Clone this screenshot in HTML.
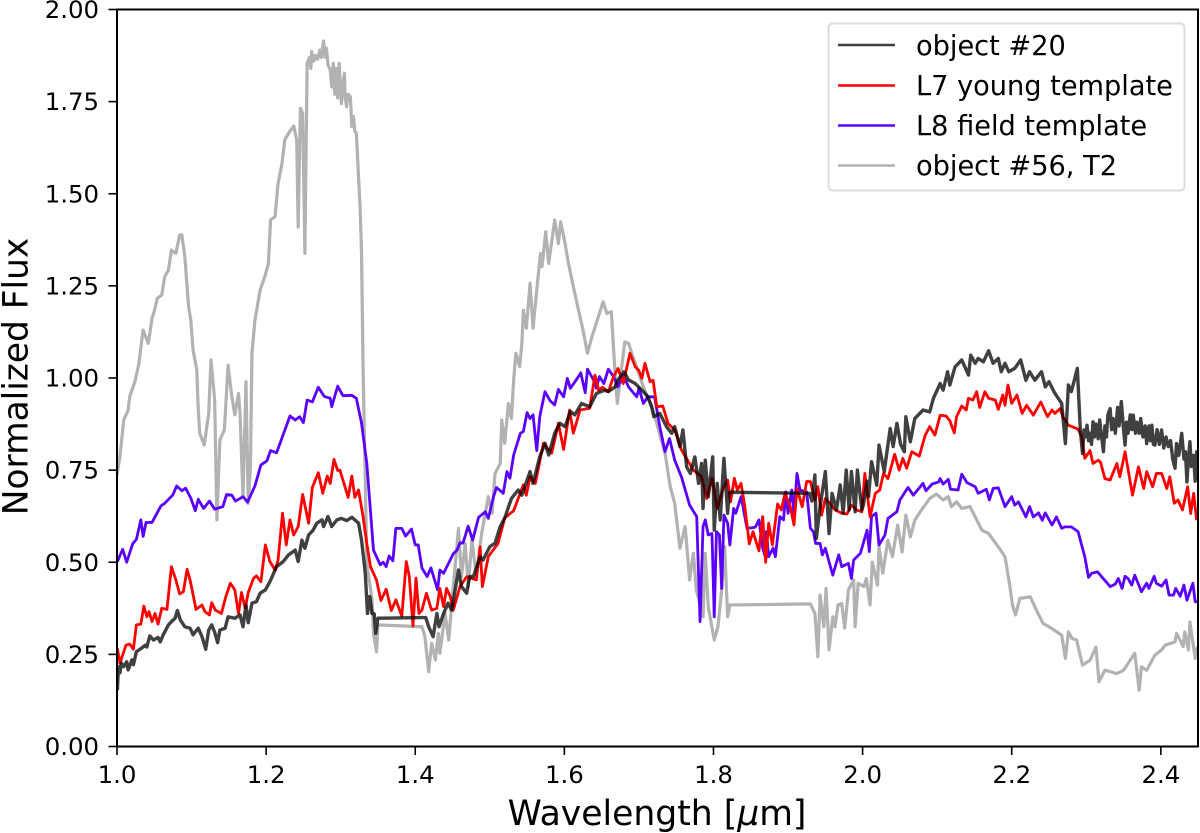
<!DOCTYPE html>
<html lang="en">
<head>
<meta charset="utf-8">
<title>Normalized flux spectra</title>
<style>
html,body{margin:0;padding:0;background:#fff;}
svg{display:block;font-family:"DejaVu Sans","Liberation Sans",sans-serif;}
</style>
</head>
<body>
<svg id="chart" xmlns="http://www.w3.org/2000/svg" width="1200" height="833" viewBox="0 0 1200 833">
  <defs><clipPath id="plot-clip"><rect x="117" y="9.5" width="1081" height="737"/></clipPath></defs>
  <rect x="0" y="0" width="1200" height="833" fill="#fff"/>
  <g id="series-layer" clip-path="url(#plot-clip)"></g>
  <g id="tick-layer"></g>
  <rect x="117" y="9.5" width="1081" height="737" fill="none" stroke="#000" stroke-width="2"/>
  <text transform="translate(27.5,376.5) rotate(-90)" text-anchor="middle" font-size="34.4" fill="#000">Normalized Flux</text>
  <text x="657" y="825" text-anchor="middle" font-size="34.6" fill="#000">Wavelength [<tspan font-style="italic">μ</tspan>m]</text>
  <g>
    <rect x="828.5" y="23.5" width="356" height="167" rx="4" ry="4" fill="#fff" fill-opacity="0.8" stroke="#dcdcdc" stroke-width="2"/>
    <line x1="838" x2="895" y1="45" y2="45" stroke="#000" stroke-opacity="0.75" stroke-width="2.6"/>
    <text x="916" y="55" font-size="27.2" fill="#000">object #20</text>
    <line x1="838" x2="895" y1="85.5" y2="85.5" stroke="#ff0000" stroke-width="2.6"/>
    <text x="916" y="95" font-size="27.2" fill="#000">L7 young template</text>
    <line x1="838" x2="895" y1="125.5" y2="125.5" stroke="#5a00ff" stroke-width="2.6"/>
    <text x="916" y="135" font-size="27.2" fill="#000">L8 field template</text>
    <line x1="838" x2="895" y1="165.5" y2="165.5" stroke="#000" stroke-opacity="0.3" stroke-width="2.6"/>
    <text x="916" y="175" font-size="27.2" fill="#000">object #56, T2</text>
  </g>
</svg>
<script>
const xTicks = [1.0, 1.2, 1.4, 1.6, 1.8, 2.0, 2.2, 2.4];
const xTickLabels = ["1.0", "1.2", "1.4", "1.6", "1.8", "2.0", "2.2", "2.4"];
const yTicks = [0, 0.25, 0.5, 0.75, 1.0, 1.25, 1.5, 1.75, 2.0];
const yTickLabels = ["0.00", "0.25", "0.50", "0.75", "1.00", "1.25", "1.50", "1.75", "2.00"];

const greySpectrum = [[1.0,.737],[1.004,.787],[1.009,.886],[1.015,.913],[1.017,.949],[1.024,.99],[1.029,1.035],[1.035,1.13],[1.042,1.094],[1.047,1.162],[1.051,1.189],[1.054,1.216],[1.06,1.225],[1.064,1.275],[1.069,1.293],[1.073,1.347],[1.079,1.338],[1.084,1.388],[1.087,1.388],[1.091,1.329],[1.096,1.194],[1.099,1.157],[1.102,1.076],[1.107,1.022],[1.109,.913],[1.111,.85],[1.117,.818],[1.123,.904],[1.126,1.049],[1.129,.985],[1.131,.94],[1.134,.615],[1.138,.832],[1.144,.859],[1.149,1.035],[1.154,.949],[1.158,.9],[1.163,.958],[1.165,.904],[1.169,.678],[1.173,.99],[1.176,.66],[1.179,.76],[1.181,1.067],[1.185,1.157],[1.192,1.239],[1.199,1.28],[1.203,1.31],[1.206,1.429],[1.212,1.438],[1.216,1.528],[1.221,1.578],[1.225,1.646],[1.23,1.664],[1.237,1.684],[1.241,1.646],[1.243,1.41],[1.246,1.732],[1.249,1.718],[1.252,1.338],[1.255,1.854],[1.258,1.87],[1.26,1.84],[1.261,1.886],[1.264,1.86],[1.266,1.875],[1.269,1.865],[1.272,1.89],[1.274,1.87],[1.277,1.915],[1.279,1.87],[1.281,1.895],[1.283,1.85],[1.286,1.836],[1.288,1.79],[1.29,1.854],[1.292,1.77],[1.294,1.84],[1.296,1.76],[1.298,1.854],[1.3,1.78],[1.301,1.745],[1.303,1.8],[1.305,1.827],[1.306,1.76],[1.308,1.736],[1.31,1.77],[1.313,1.763],[1.315,1.682],[1.317,1.71],[1.319,1.67],[1.321,1.664],[1.326,1.465],[1.328,1.338],[1.33,1.03],[1.333,.723],[1.335,.497],[1.339,.443],[1.342,.4],[1.344,.307],[1.348,.257],[1.35,.33],[1.409,.325],[1.413,.298],[1.418,.203],[1.422,.28],[1.427,.235],[1.431,.307],[1.433,.253],[1.44,.361],[1.445,.289],[1.449,.389],[1.458,.592],[1.462,.461],[1.467,.551],[1.471,.434],[1.476,.56],[1.482,.461],[1.489,.578],[1.498,.678],[1.503,.633],[1.507,.741],[1.514,.768],[1.516,.886],[1.52,.823],[1.525,.931],[1.529,.89],[1.532,.995],[1.535,1.067],[1.54,1.031],[1.543,1.094],[1.545,1.184],[1.549,1.135],[1.554,1.257],[1.558,1.135],[1.563,1.239],[1.568,1.338],[1.57,1.302],[1.575,1.397],[1.579,1.311],[1.587,1.429],[1.592,1.365],[1.595,1.424],[1.601,1.365],[1.605,1.316],[1.612,1.248],[1.619,1.184],[1.625,1.13],[1.631,1.067],[1.637,1.112],[1.645,1.162],[1.652,1.207],[1.657,1.175],[1.663,1.18],[1.668,1.013],[1.671,.931],[1.681,1.098],[1.686,1.094],[1.695,1.04],[1.706,.976],[1.719,.913],[1.73,.832],[1.735,.796],[1.742,.705],[1.748,.66],[1.755,.538],[1.762,.597],[1.768,.452],[1.773,.524],[1.777,.425],[1.786,.352],[1.789,.524],[1.793,.379],[1.801,.289],[1.806,.325],[1.811,.425],[1.815,.542],[1.819,.352],[1.822,.384],[1.93,.387],[1.936,.361],[1.94,.244],[1.943,.411],[1.948,.325],[1.951,.429],[1.955,.262],[1.96,.352],[1.963,.325],[1.967,.384],[1.972,.388],[1.976,.321],[1.981,.425],[1.988,.452],[1.99,.325],[1.994,.443],[2.002,.434],[2.005,.456],[2.01,.384],[2.013,.5],[2.02,.438],[2.022,.542],[2.027,.47],[2.034,.56],[2.04,.515],[2.047,.601],[2.053,.528],[2.058,.628],[2.064,.569],[2.07,.614],[2.079,.642],[2.09,.673],[2.099,.685],[2.108,.669],[2.115,.678],[2.119,.651],[2.126,.664],[2.133,.646],[2.144,.651],[2.16,.587],[2.169,.578],[2.182,.542],[2.191,.515],[2.197,.442],[2.201,.384],[2.205,.357],[2.211,.402],[2.225,.406],[2.231,.379],[2.242,.334],[2.254,.32],[2.267,.302],[2.272,.239],[2.276,.311],[2.281,.293],[2.287,.289],[2.295,.221],[2.305,.234],[2.313,.27],[2.317,.176],[2.325,.207],[2.341,.198],[2.35,.207],[2.365,.253],[2.371,.153],[2.374,.216],[2.381,.207],[2.392,.248],[2.401,.262],[2.406,.275],[2.419,.284],[2.421,.307],[2.43,.271],[2.432,.311],[2.437,.262],[2.439,.338],[2.446,.239],[2.449,.271]];

const purpleSpectrum = [[1.0005,.502],[1.0076,.535],[1.013,.5],[1.021,.55],[1.026,.562],[1.032,.615],[1.035,.57],[1.039,.608],[1.047,.608],[1.059,.653],[1.064,.66],[1.075,.683],[1.08,.707],[1.087,.694],[1.092,.701],[1.099,.674],[1.105,.64],[1.109,.671],[1.116,.646],[1.124,.666],[1.131,.644],[1.142,.651],[1.147,.684],[1.154,.682],[1.159,.666],[1.169,.678],[1.175,.663],[1.185,.707],[1.193,.764],[1.201,.775],[1.206,.803],[1.214,.797],[1.232,.897],[1.239,.886],[1.245,.895],[1.25,.879],[1.255,.94],[1.262,.935],[1.27,.975],[1.278,.95],[1.286,.945],[1.288,.922],[1.296,.978],[1.303,.952],[1.315,.953],[1.321,.945],[1.328,.877],[1.335,.769],[1.344,.533],[1.353,.493],[1.357,.5],[1.361,.488],[1.365,.517],[1.37,.504],[1.374,.592],[1.382,.592],[1.387,.571],[1.395,.59],[1.4,.547],[1.404,.547],[1.409,.484],[1.416,.461],[1.421,.485],[1.43,.425],[1.433,.479],[1.438,.47],[1.451,.523],[1.456,.533],[1.46,.553],[1.464,.552],[1.471,.598],[1.477,.56],[1.485,.622],[1.494,.637],[1.498,.619],[1.505,.678],[1.509,.703],[1.518,.687],[1.523,.746],[1.527,.728],[1.532,.791],[1.541,.85],[1.545,.855],[1.55,.906],[1.554,.89],[1.558,.9],[1.563,.803],[1.567,.895],[1.574,.963],[1.581,.938],[1.587,.927],[1.592,.969],[1.599,.949],[1.604,.999],[1.608,.972],[1.616,.995],[1.622,1.014],[1.628,.96],[1.631,1.024],[1.639,.995],[1.643,.972],[1.647,1.004],[1.653,.985],[1.659,1.024],[1.666,1.004],[1.672,.976],[1.679,1.008],[1.686,.976],[1.697,.949],[1.7,.972],[1.706,.931],[1.712,.949],[1.721,.949],[1.728,.868],[1.735,.8],[1.741,.836],[1.748,.777],[1.757,.732],[1.768,.655],[1.7775,.624],[1.782,.339],[1.786,.597],[1.789,.615],[1.793,.574],[1.798,.578],[1.801,.352],[1.804,.583],[1.808,.574],[1.811,.429],[1.814,.628],[1.819,.606],[1.822,.547],[1.827,.646],[1.83,.633],[1.837,.678],[1.845,.592],[1.856,.595],[1.861,.615],[1.866,.538],[1.87,.511],[1.871,.583],[1.874,.515],[1.88,.538],[1.883,.515],[1.889,.624],[1.894,.615],[1.897,.691],[1.9,.633],[1.905,.696],[1.908,.633],[1.912,.741],[1.916,.696],[1.925,.691],[1.93,.592],[1.934,.583],[1.937,.551],[1.943,.551],[1.946,.52],[1.95,.538],[1.96,.465],[1.968,.52],[1.972,.488],[1.981,.497],[1.985,.456],[1.988,.506],[1.997,.524],[2.006,.587],[2.009,.529],[2.012,.624],[2.018,.633],[2.022,.547],[2.03,.574],[2.034,.619],[2.046,.637],[2.05,.669],[2.061,.703],[2.068,.682],[2.081,.714],[2.085,.694],[2.093,.712],[2.102,.718],[2.104,.727],[2.108,.712],[2.115,.725],[2.118,.698],[2.128,.696],[2.133,.739],[2.14,.716],[2.151,.705],[2.155,.687],[2.166,.698],[2.17,.669],[2.175,.7],[2.182,.702],[2.191,.651],[2.2,.678],[2.204,.655],[2.209,.664],[2.219,.623],[2.224,.651],[2.229,.623],[2.236,.634],[2.241,.614],[2.245,.634],[2.254,.601],[2.26,.623],[2.267,.592],[2.271,.596],[2.28,.596],[2.289,.583],[2.298,.515],[2.303,.459],[2.307,.47],[2.315,.474],[2.332,.434],[2.339,.441],[2.343,.456],[2.348,.429],[2.352,.462],[2.356,.456],[2.361,.438],[2.365,.465],[2.374,.42],[2.381,.443],[2.384,.429],[2.391,.462],[2.394,.443],[2.401,.435],[2.407,.452],[2.411,.411],[2.417,.411],[2.42,.429],[2.426,.408],[2.431,.438],[2.435,.397],[2.443,.443],[2.446,.393],[2.449,.393]];

const redSpectrum = [[1.0005,.266],[1.004,.226],[1.012,.275],[1.017,.278],[1.022,.264],[1.026,.33],[1.032,.332],[1.036,.381],[1.04,.352],[1.043,.366],[1.047,.339],[1.051,.361],[1.055,.332],[1.06,.375],[1.067,.372],[1.073,.488],[1.079,.452],[1.084,.414],[1.089,.42],[1.094,.481],[1.098,.452],[1.106,.372],[1.114,.384],[1.118,.366],[1.124,.357],[1.127,.39],[1.132,.37],[1.14,.361],[1.146,.407],[1.152,.443],[1.158,.425],[1.163,.361],[1.167,.418],[1.172,.375],[1.176,.418],[1.183,.456],[1.187,.463],[1.193,.447],[1.199,.547],[1.205,.502],[1.212,.479],[1.216,.506],[1.222,.633],[1.227,.547],[1.232,.615],[1.237,.574],[1.243,.597],[1.249,.684],[1.257,.606],[1.262,.703],[1.27,.743],[1.276,.687],[1.282,.734],[1.286,.714],[1.291,.779],[1.296,.749],[1.299,.75],[1.305,.71],[1.31,.676],[1.315,.734],[1.319,.676],[1.324,.696],[1.33,.624],[1.335,.551],[1.34,.488],[1.348,.452],[1.354,.396],[1.361,.427],[1.368,.369],[1.374,.398],[1.382,.354],[1.388,.502],[1.392,.461],[1.397,.327],[1.401,.457],[1.405,.361],[1.409,.37],[1.415,.416],[1.422,.37],[1.429,.375],[1.433,.429],[1.438,.38],[1.442,.429],[1.447,.407],[1.451,.37],[1.46,.434],[1.469,.461],[1.482,.452],[1.487,.542],[1.49,.434],[1.498,.515],[1.511,.551],[1.52,.62],[1.532,.64],[1.545,.71],[1.549,.682],[1.554,.732],[1.561,.714],[1.572,.823],[1.583,.796],[1.592,.877],[1.599,.806],[1.607,.913],[1.612,.85],[1.621,.913],[1.634,.918],[1.641,1.008],[1.646,.967],[1.651,.975],[1.659,.963],[1.666,1.004],[1.672,1.026],[1.679,.985],[1.688,1.067],[1.695,1.031],[1.7,1.02],[1.704,.999],[1.708,1.04],[1.715,.99],[1.719,.994],[1.724,.922],[1.732,.924],[1.739,.877],[1.748,.859],[1.757,.805],[1.773,.75],[1.784,.732],[1.791,.673],[1.798,.728],[1.805,.646],[1.813,.7],[1.819,.723],[1.823,.664],[1.828,.728],[1.832,.696],[1.837,.714],[1.842,.651],[1.848,.55],[1.853,.583],[1.861,.531],[1.866,.624],[1.87,.5],[1.874,.606],[1.879,.547],[1.886,.658],[1.891,.642],[1.896,.687],[1.903,.651],[1.908,.601],[1.912,.7],[1.919,.651],[1.925,.719],[1.93,.719],[1.936,.669],[1.94,.705],[1.945,.628],[1.95,.673],[1.956,.66],[1.963,.642],[1.972,.633],[1.979,.631],[1.985,.655],[1.992,.642],[1.999,.637],[2.003,.741],[2.01,.623],[2.017,.687],[2.023,.696],[2.028,.741],[2.034,.727],[2.043,.793],[2.049,.75],[2.054,.782],[2.059,.755],[2.066,.8],[2.076,.788],[2.084,.845],[2.09,.868],[2.097,.845],[2.104,.899],[2.112,.897],[2.117,.884],[2.123,.851],[2.126,.895],[2.133,.924],[2.139,.913],[2.142,.945],[2.148,.94],[2.153,.963],[2.157,.92],[2.164,.963],[2.169,.945],[2.178,.94],[2.182,.915],[2.188,.954],[2.191,.926],[2.195,.981],[2.2,.931],[2.207,.954],[2.214,.904],[2.22,.926],[2.229,.899],[2.239,.935],[2.248,.895],[2.254,.913],[2.258,.904],[2.265,.917],[2.269,.893],[2.276,.872],[2.289,.861],[2.294,.84],[2.298,.782],[2.305,.803],[2.309,.768],[2.316,.777],[2.319,.772],[2.325,.727],[2.332,.723],[2.341,.768],[2.345,.732],[2.352,.8],[2.362,.682],[2.37,.759],[2.377,.7],[2.381,.746],[2.389,.705],[2.394,.741],[2.401,.741],[2.408,.7],[2.412,.732],[2.418,.66],[2.423,.669],[2.429,.642],[2.436,.705],[2.44,.632],[2.444,.687],[2.448,.614]];

const blackSpectrum = [[1.0005,.153],[1.002,.217],[1.004,.2],[1.006,.226],[1.009,.217],[1.013,.23],[1.015,.208],[1.02,.235],[1.022,.222],[1.026,.257],[1.033,.267],[1.038,.275],[1.04,.27],[1.044,.3],[1.049,.289],[1.055,.296],[1.058,.284],[1.062,.303],[1.069,.33],[1.073,.339],[1.078,.348],[1.081,.369],[1.085,.343],[1.091,.325],[1.098,.321],[1.102,.303],[1.109,.321],[1.114,.298],[1.119,.264],[1.123,.316],[1.127,.33],[1.131,.31],[1.135,.282],[1.138,.316],[1.145,.321],[1.149,.352],[1.158,.348],[1.165,.357],[1.169,.325],[1.173,.384],[1.176,.336],[1.181,.389],[1.187,.393],[1.192,.416],[1.199,.425],[1.205,.447],[1.214,.488],[1.223,.502],[1.23,.52],[1.239,.533],[1.243,.502],[1.248,.56],[1.252,.538],[1.257,.574],[1.263,.587],[1.268,.606],[1.275,.615],[1.277,.597],[1.283,.624],[1.288,.597],[1.295,.615],[1.301,.619],[1.308,.613],[1.315,.622],[1.324,.606],[1.328,.56],[1.333,.47],[1.336,.361],[1.339,.407],[1.342,.361],[1.345,.36],[1.347,.307],[1.35,.348],[1.411,.35],[1.414,.35],[1.418,.325],[1.424,.298],[1.429,.361],[1.432,.325],[1.438,.361],[1.444,.389],[1.449,.37],[1.458,.479],[1.462,.434],[1.469,.416],[1.473,.461],[1.478,.461],[1.487,.515],[1.491,.506],[1.5,.542],[1.507,.552],[1.514,.597],[1.52,.62],[1.529,.673],[1.538,.696],[1.543,.682],[1.554,.746],[1.558,.714],[1.567,.786],[1.574,.823],[1.579,.791],[1.587,.85],[1.594,.877],[1.601,.868],[1.608,.909],[1.614,.9],[1.623,.931],[1.634,.922],[1.643,.958],[1.654,.967],[1.659,.963],[1.668,.976],[1.672,.995],[1.68,1.017],[1.686,.995],[1.695,.985],[1.704,.967],[1.712,.949],[1.717,.922],[1.72,.895],[1.728,.904],[1.737,.868],[1.744,.85],[1.748,.868],[1.755,.814],[1.759,.859],[1.764,.759],[1.769,.741],[1.775,.786],[1.78,.714],[1.784,.768],[1.786,.646],[1.789,.777],[1.793,.678],[1.799,.786],[1.801,.587],[1.805,.714],[1.809,.615],[1.814,.782],[1.819,.633],[1.821,.69],[1.929,.687],[1.932,.666],[1.936,.737],[1.938,.565],[1.943,.651],[1.95,.746],[1.955,.578],[1.959,.687],[1.965,.642],[1.97,.71],[1.974,.633],[1.978,.75],[1.982,.642],[1.985,.746],[1.99,.637],[1.993,.75],[1.999,.642],[2.001,.655],[2.006,.72],[2.008,.678],[2.012,.773],[2.019,.709],[2.022,.818],[2.029,.746],[2.037,.863],[2.041,.814],[2.046,.877],[2.051,.82],[2.056,.8],[2.058,.895],[2.064,.827],[2.07,.89],[2.081,.913],[2.09,.908],[2.095,.945],[2.104,.985],[2.108,.967],[2.114,1.017],[2.117,.981],[2.124,1.03],[2.133,1.049],[2.142,1.008],[2.145,1.062],[2.151,1.04],[2.155,1.053],[2.162,1.044],[2.169,1.074],[2.175,1.04],[2.182,1.053],[2.186,1.017],[2.191,1.04],[2.196,1.017],[2.204,1.026],[2.212,1.049],[2.219,.994],[2.224,1.017],[2.231,.994],[2.24,1.017],[2.245,.976],[2.25,.99],[2.258,.958],[2.267,.931],[2.272,.822],[2.276,.981],[2.28,.963],[2.288,1.026],[2.292,.859],[2.295,.795],[2.297,.859],[2.299,.84],[2.301,.872],[2.303,.83],[2.305,.85],[2.307,.82],[2.309,.881],[2.311,.84],[2.313,.875],[2.316,.835],[2.318,.886],[2.32,.85],[2.323,.8],[2.325,.87],[2.327,.84],[2.329,.9],[2.332,.917],[2.334,.86],[2.336,.89],[2.339,.85],[2.342,.92],[2.344,.87],[2.347,.936],[2.35,.86],[2.352,.818],[2.354,.88],[2.356,.85],[2.359,.9],[2.361,.86],[2.363,.899],[2.366,.85],[2.368,.88],[2.371,.85],[2.373,.89],[2.376,.84],[2.379,.87],[2.381,.822],[2.384,.87],[2.386,.83],[2.388,.872],[2.39,.82],[2.392,.818],[2.395,.86],[2.398,.82],[2.401,.859],[2.404,.81],[2.407,.84],[2.41,.814],[2.413,.83],[2.416,.78],[2.419,.755],[2.421,.822],[2.424,.79],[2.428,.85],[2.431,.78],[2.433,.8],[2.435,.718],[2.437,.78],[2.439,.827],[2.441,.76],[2.444,.79],[2.446,.72],[2.448,.8],[2.449,.72]];

const svgNS = "http://www.w3.org/2000/svg";
const chart = document.getElementById("chart");
const seriesLayer = document.getElementById("series-layer");
const tickLayer = document.getElementById("tick-layer");

function xScale(w) { return 117 + (w - 1.0) * 745.6; }
function yScale(f) { return 746.5 - f * 368.5; }

function drawSeries(points, name, color, opacity, width) {
  const path = document.createElementNS(svgNS, "path");
  path.setAttribute("d", points.map((p, i) => (i ? "L" : "M") + xScale(p[0]).toFixed(2) + " " + yScale(p[1]).toFixed(2)).join(""));
  path.setAttribute("fill", "none");
  path.setAttribute("stroke", color);
  path.setAttribute("stroke-opacity", opacity);
  path.setAttribute("stroke-width", width);
  path.setAttribute("stroke-linejoin", "round");
  
  
  seriesLayer.appendChild(path);
}

drawSeries(greySpectrum, "series-object-56", "#000", 0.3, 3.2);
drawSeries(purpleSpectrum, "series-l8-field", "#5a00ff", 1, 2.8);
drawSeries(redSpectrum, "series-l7-young", "#ff0000", 1, 2.8);
drawSeries(blackSpectrum, "series-object-20", "#000", 0.75, 3.4);

xTicks.forEach(function (t, i) {
  const x = xScale(t);
  const mark = document.createElementNS(svgNS, "line");
  mark.setAttribute("x1", x);
  mark.setAttribute("x2", x);
  mark.setAttribute("y1", 746.5);
  mark.setAttribute("y2", 755);
  mark.setAttribute("stroke", "#000");
  mark.setAttribute("stroke-width", "1.6");
  
  
  tickLayer.appendChild(mark);
  const label = document.createElementNS(svgNS, "text");
  label.setAttribute("x", x);
  label.setAttribute("y", 783);
  label.setAttribute("text-anchor", "middle");
  label.setAttribute("font-size", "24.4");
  label.textContent = xTickLabels[i];
  
  
  tickLayer.appendChild(label);
});

yTicks.forEach(function (t, i) {
  const y = yScale(t);
  const mark = document.createElementNS(svgNS, "line");
  mark.setAttribute("x1", 108.5);
  mark.setAttribute("x2", 117);
  mark.setAttribute("y1", y);
  mark.setAttribute("y2", y);
  mark.setAttribute("stroke", "#000");
  mark.setAttribute("stroke-width", "1.6");
  
  
  tickLayer.appendChild(mark);
  const label = document.createElementNS(svgNS, "text");
  label.setAttribute("x", 99);
  label.setAttribute("y", y + 8.5);
  label.setAttribute("text-anchor", "end");
  label.setAttribute("font-size", "24.4");
  label.textContent = yTickLabels[i];
  
  
  tickLayer.appendChild(label);
});
</script>
</body>
</html>
